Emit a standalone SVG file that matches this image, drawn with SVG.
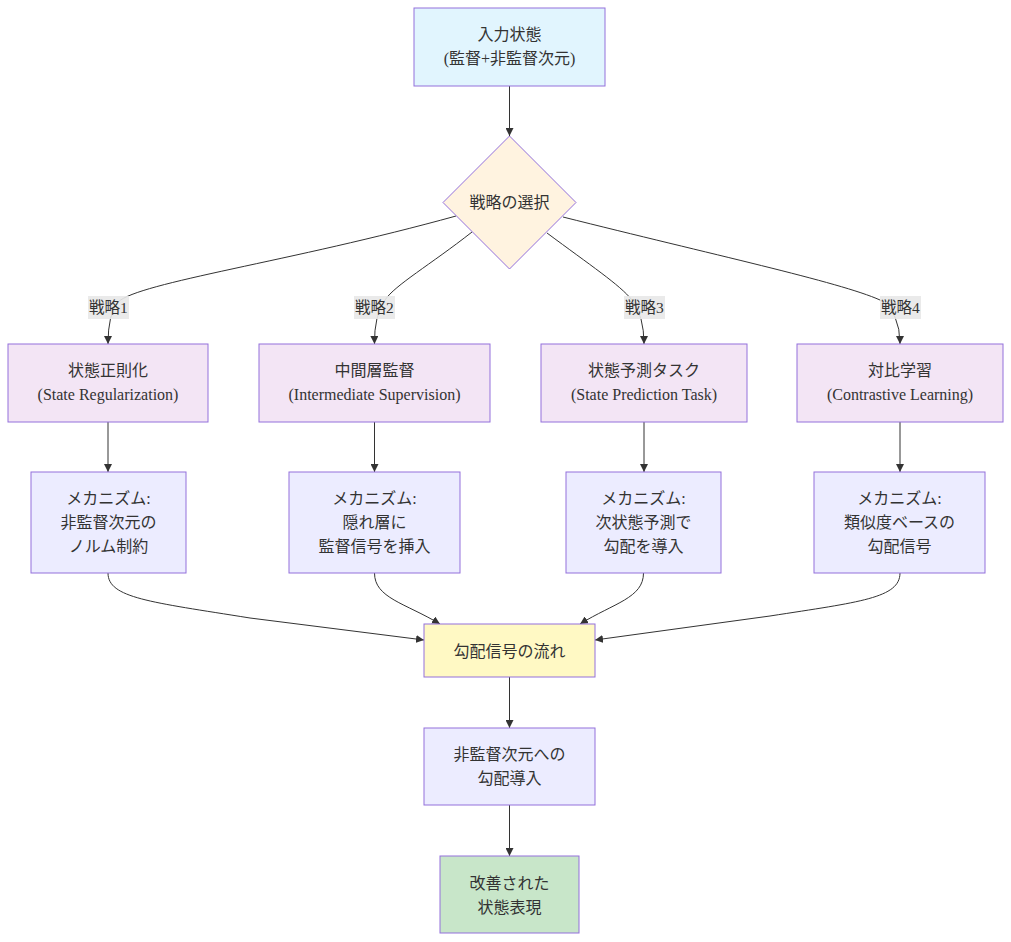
<svg xmlns="http://www.w3.org/2000/svg" width="1011" height="942" viewBox="0 0 1011 942">
<style>
.n{stroke:#9370db;stroke-width:1;}
.t{font-family:"Liberation Serif","Noto Sans CJK JP",serif;font-size:16px;fill:#333;text-anchor:middle;dominant-baseline:central;}
.lt{font-family:"Liberation Serif","Noto Sans CJK JP",serif;font-size:15.5px;fill:#333;text-anchor:middle;dominant-baseline:central;}
.e{fill:none;stroke:#333;stroke-width:1;}
.lb{fill:#e8e8e8;opacity:0.9;}
</style>
<defs>
<marker id="ah" viewBox="0 0 10 10" refX="10" refY="5" markerWidth="8" markerHeight="8" markerUnits="userSpaceOnUse" orient="auto">
<path d="M0,0 L10,5 L0,10 z" fill="#333"/>
</marker>
</defs>
<rect width="1011" height="942" fill="#fff"/>
<g id="connectors">
<path class="e" marker-end="url(#ah)" d="M509.5,86 L509.5,136"/>
<path class="e" marker-end="url(#ah)" d="M456,216 C290,262 140,282 118,302 Q108,314 108,344"/>
<path class="e" marker-end="url(#ah)" d="M472,232 C430,265 395,285 385,300 Q374,316 374.5,344"/>
<path class="e" marker-end="url(#ah)" d="M547,233 C590,265 620,285 632,300 Q644,316 644,344"/>
<path class="e" marker-end="url(#ah)" d="M563,217 C710,254 840,282 880,300 Q900,312 900,344"/>
<path class="e" marker-end="url(#ah)" d="M108,422 L108,472"/>
<path class="e" marker-end="url(#ah)" d="M374.5,422 L374.5,472"/>
<path class="e" marker-end="url(#ah)" d="M644,422 L644,472"/>
<path class="e" marker-end="url(#ah)" d="M900,422 L900,472"/>
<path class="e" marker-end="url(#ah)" d="M108,573 C108,598 150,602 250,618 L424,640"/>
<path class="e" marker-end="url(#ah)" d="M374.5,573 C374.5,598 405,603 440,624"/>
<path class="e" marker-end="url(#ah)" d="M643.5,573 C643.5,598 614,603 580,624"/>
<path class="e" marker-end="url(#ah)" d="M900,573 C900,598 860,602 770,616 L595,640"/>
<path class="e" marker-end="url(#ah)" d="M509.5,677 L509.5,728"/>
<path class="e" marker-end="url(#ah)" d="M509.5,805 L509.5,856"/>
<g id="labels">
<rect class="lb" x="88" y="296" width="41" height="23"/>
<text class="lt" x="108.5" y="307">戦略1</text>
<rect class="lb" x="354" y="296" width="41" height="23"/>
<text class="lt" x="374.5" y="307">戦略2</text>
<rect class="lb" x="624" y="296" width="41" height="23"/>
<text class="lt" x="644.5" y="307">戦略3</text>
<rect class="lb" x="880" y="296" width="41" height="23"/>
<text class="lt" x="900.5" y="307">戦略4</text>
</g>
</g>
<g id="input">
<rect class="n" x="414" y="8" width="191" height="78" fill="#e1f5fe"/>
<text class="t" x="509.5" y="34">入力状態</text>
<text class="t" x="509.5" y="58">(監督+非監督次元)</text>
</g>
<g id="choice">
<polygon class="n" points="509.5,136 576,202.5 509.5,269 443,202.5" fill="#fff3e0"/>
<text class="t" x="509.5" y="202">戦略の選択</text>
</g>
<g id="s1">
<rect class="n" x="8" y="344" width="200" height="78" fill="#f3e5f5"/>
<text class="t" x="108" y="370">状態正則化</text>
<text class="t" x="108" y="394">(State Regularization)</text>
</g>
<g id="s2">
<rect class="n" x="259" y="344" width="231" height="78" fill="#f3e5f5"/>
<text class="t" x="374.5" y="370">中間層監督</text>
<text class="t" x="374.5" y="394">(Intermediate Supervision)</text>
</g>
<g id="s3">
<rect class="n" x="541" y="344" width="206" height="78" fill="#f3e5f5"/>
<text class="t" x="644" y="370">状態予測タスク</text>
<text class="t" x="644" y="394">(State Prediction Task)</text>
</g>
<g id="s4">
<rect class="n" x="797" y="344" width="206" height="78" fill="#f3e5f5"/>
<text class="t" x="900" y="370">対比学習</text>
<text class="t" x="900" y="394">(Contrastive Learning)</text>
</g>
<g id="m1">
<rect class="n" x="31" y="472" width="155" height="101" fill="#ececff"/>
<text class="t" x="108.5" y="498">メカニズム:</text>
<text class="t" x="108.5" y="522">非監督次元の</text>
<text class="t" x="108.5" y="546">ノルム制約</text>
</g>
<g id="m2">
<rect class="n" x="289" y="472" width="171" height="101" fill="#ececff"/>
<text class="t" x="374.5" y="498">メカニズム:</text>
<text class="t" x="374.5" y="522">隠れ層に</text>
<text class="t" x="374.5" y="546">監督信号を挿入</text>
</g>
<g id="m3">
<rect class="n" x="566" y="472" width="155" height="101" fill="#ececff"/>
<text class="t" x="643.5" y="498">メカニズム:</text>
<text class="t" x="643.5" y="522">次状態予測で</text>
<text class="t" x="643.5" y="546">勾配を導入</text>
</g>
<g id="m4">
<rect class="n" x="814" y="472" width="171" height="101" fill="#ececff"/>
<text class="t" x="899.5" y="498">メカニズム:</text>
<text class="t" x="899.5" y="522">類似度ベースの</text>
<text class="t" x="899.5" y="546">勾配信号</text>
</g>
<g id="flow">
<rect class="n" x="424" y="624" width="171" height="53" fill="#fff9c4"/>
<text class="t" x="509.5" y="651">勾配信号の流れ</text>
</g>
<g id="inject">
<rect class="n" x="424" y="728" width="171" height="77" fill="#ececff"/>
<text class="t" x="509.5" y="754">非監督次元への</text>
<text class="t" x="509.5" y="778">勾配導入</text>
</g>
<g id="result">
<rect class="n" x="440" y="856" width="139" height="77" fill="#c8e6c9"/>
<text class="t" x="509.5" y="883">改善された</text>
<text class="t" x="509.5" y="907">状態表現</text>
</g>
</svg>
